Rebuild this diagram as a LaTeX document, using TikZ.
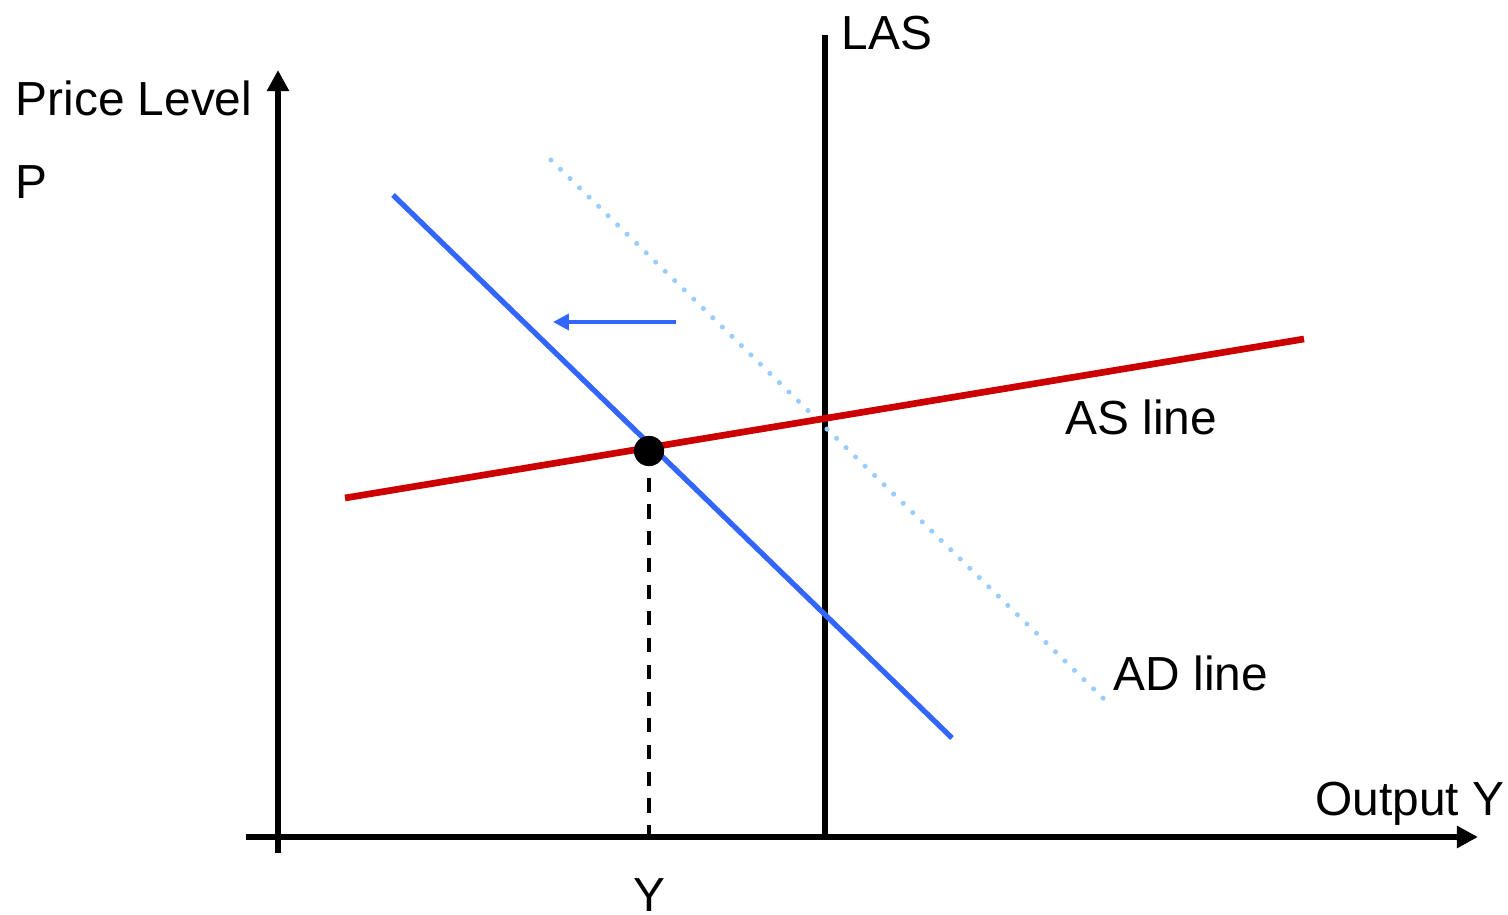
\documentclass[tikz,border=0pt]{standalone}
\usepackage{fontspec}
\setmainfont{Liberation Sans}
\usetikzlibrary{arrows.meta}
\definecolor{adblue}{RGB}{51,102,255}
\definecolor{adlight}{RGB}{153,204,255}
\definecolor{asred}{RGB}{204,0,0}
\begin{document}
\begin{tikzpicture}[x=0.01cm,y=-0.01cm,
  lbl/.style={inner sep=0pt,anchor=base west,font=\fontsize{13.6}{16}\selectfont},
  axis/.style={line width=1.6pt,-{Triangle[length=6pt,width=6pt]}},
  adline/.style={adblue,line width=1.5pt},
  adshift/.style={adlight,line width=1.45pt,line cap=round,dash pattern=on 0pt off 3.78pt},
  asline/.style={asred,line width=1.9pt},
  shiftarrow/.style={adblue,line width=1.0pt,-{Triangle[length=4.5pt,width=4.5pt]}},
  guide/.style={line width=1.15pt,dash pattern=on 4pt off 3.6pt}]
\useasboundingbox (0,0) rectangle (1508,915);
% axes
\coordinate (yb) at (278,853);
\coordinate (yt) at (278,70);
\coordinate (xl) at (246,837);
\coordinate (xr) at (1478,837);
\draw[axis] (yb) -- (yt);
\draw[axis] (xl) -- (xr);
% LAS
\coordinate (lasb) at (825,837);
\coordinate (last) at (825,35);
\draw[line width=1.6pt] (lasb) -- (last);
% AD shifted (dotted)
\coordinate (ad2a) at (551,160);
\coordinate (ad2b) at (1108,703);
\draw[adshift] (ad2a) -- (ad2b);
% AD
\coordinate (ada) at (393,195);
\coordinate (adb) at (952,738);
\draw[adline] (ada) -- (adb);
% AS
\coordinate (asa) at (345,498);
\coordinate (asb) at (1304,339);
\draw[asline] (asa) -- (asb);
% equilibrium
\coordinate (eq) at (649,451);
\coordinate (eqx) at (649,837);
\draw[guide] (eq) -- (eqx);
\fill (eq) circle[radius=4.3pt];
% shift arrow
\coordinate (sa) at (676,322);
\coordinate (sb) at (553,322);
\draw[shiftarrow] (sa) -- (sb);
% labels
\node[lbl] (pl) at (15,115) {Price Level};
\node[lbl] (p) at (15,199) {P};
\node[lbl] (las) at (841,50) {LAS};
\node[lbl] (as) at (1065,434) {AS line};
\node[lbl] (ad) at (1113,690) {AD line};
\node[lbl] (out) at (1315,815) {Output Y};
\node[lbl,anchor=base] (y) at (649,911) {Y};
\end{tikzpicture}
\end{document}
